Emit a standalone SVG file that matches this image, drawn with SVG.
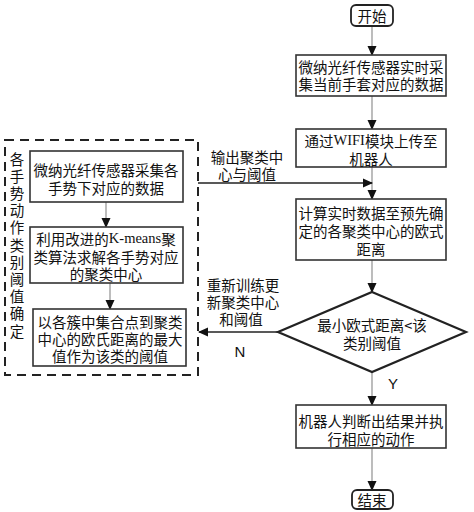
<svg xmlns="http://www.w3.org/2000/svg" width="474" height="512" viewBox="0 0 474 512">
<defs>
<marker id="ah" markerWidth="10" markerHeight="10" refX="9" refY="5" orient="auto" markerUnits="userSpaceOnUse">
<path d="M0,0.5 L10,5 L0,9.5 Z" fill="#111"/>
</marker>
<style>
.box{fill:#fff;stroke:#333;stroke-width:1.6}
.dia{fill:#fff;stroke:#222;stroke-width:2.2}
.term{fill:#fff;stroke:#222;stroke-width:1.8}
.dash{fill:none;stroke:#222;stroke-width:2;stroke-dasharray:9,6}
.ln{fill:none;stroke:#999;stroke-width:1.3;marker-end:url(#ah)}
.lnk{fill:none;stroke:#222;stroke-width:1.5;marker-end:url(#ah)}
text{font-family:"Noto Sans CJK SC","Liberation Sans",sans-serif;font-size:14.5px;fill:#111;text-anchor:middle;dominant-baseline:central}
.ser{font-family:"Liberation Serif",serif}
.lat{font-family:"Liberation Sans",sans-serif;font-size:15px}
</style>
</defs>
<g id="connectors">
<line class="ln" x1="372" y1="25" x2="372" y2="55"/>
<line class="ln" x1="372" y1="96" x2="372" y2="129"/>
<line class="ln" x1="372" y1="167" x2="372" y2="199"/>
<polyline class="lnk" points="198,183 372,183"/>
<line class="ln" x1="372" y1="260" x2="372" y2="292"/>
<line class="ln" x1="372" y1="372" x2="372" y2="405"/>
<line class="ln" x1="372" y1="448" x2="372" y2="490"/>
<line class="lnk" x1="278" y1="332" x2="199" y2="332"/>
<line class="ln" x1="106" y1="202" x2="106" y2="227"/>
<line class="ln" x1="110" y1="283" x2="110" y2="309"/>
<text x="247" y="156">输出聚类中</text>
<text x="247" y="173">心与阈值</text>
<text x="243" y="284">重新训练更</text>
<text x="243" y="301">新聚类中心</text>
<text x="241" y="318">和阈值</text>
<text class="lat" x="240" y="351">N</text>
<text class="lat" x="393" y="383">Y</text>
</g>
<g id="group-threshold">
<rect class="dash" x="5" y="140" width="193" height="235"/>
<text x="17" y="158">各</text>
<text x="17" y="175.2">手</text>
<text x="17" y="192.4">势</text>
<text x="17" y="209.6">动</text>
<text x="17" y="226.8">作</text>
<text x="17" y="244">类</text>
<text x="17" y="261.2">别</text>
<text x="17" y="278.4">阈</text>
<text x="17" y="295.6">值</text>
<text x="17" y="312.8">确</text>
<text x="17" y="330">定</text>
</g>
<g id="start">
<rect class="term" x="351" y="5" width="42" height="21" rx="5"/>
<text x="372" y="15">开始</text>
</g>
<g id="box1">
<rect class="box" x="296" y="55" width="150" height="41"/>
<text x="371" y="66">微纳光纤传感器实时采</text>
<text x="371" y="83">集当前手套对应的数据</text>
</g>
<g id="box2">
<rect class="box" x="296" y="129" width="150" height="38"/>
<text x="371" y="140">通过<tspan class="ser">WIFI</tspan>模块上传至</text>
<text x="371" y="158">机器人</text>
</g>
<g id="box3">
<rect class="box" x="296" y="199" width="150" height="61"/>
<text x="371" y="212">计算实时数据至预先确</text>
<text x="371" y="230">定的各聚类中心的欧式</text>
<text x="371" y="248">距离</text>
</g>
<g id="decision">
<polygon class="dia" points="372,292 466,332 372,372 278,332"/>
<text x="372" y="324">最小欧式距离&lt;该</text>
<text x="372" y="342">类别阈值</text>
</g>
<g id="box4">
<rect class="box" x="296" y="405" width="150" height="43"/>
<text x="371" y="420">机器人判断出结果并执</text>
<text x="371" y="438">行相应的动作</text>
</g>
<g id="end">
<rect class="term" x="352" y="490" width="41" height="19" rx="5"/>
<text x="372" y="499">结束</text>
</g>
<g id="boxA">
<rect class="box" x="30" y="151" width="153" height="51"/>
<text x="106" y="169">微纳光纤传感器采集各</text>
<text x="106" y="187">手势下对应的数据</text>
</g>
<g id="boxB">
<rect class="box" x="30" y="227" width="153" height="56"/>
<text x="106" y="238">利用改进的<tspan class="ser">K-means</tspan>聚</text>
<text x="106" y="256">类算法求解各手势对应</text>
<text x="106" y="273">的聚类中心</text>
</g>
<g id="boxC">
<rect class="box" x="33" y="309" width="153" height="57"/>
<text x="110" y="321">以各簇中集合点到聚类</text>
<text x="110" y="338">中心的欧氏距离的最大</text>
<text x="110" y="355">值作为该类的阈值</text>
</g>
</svg>
